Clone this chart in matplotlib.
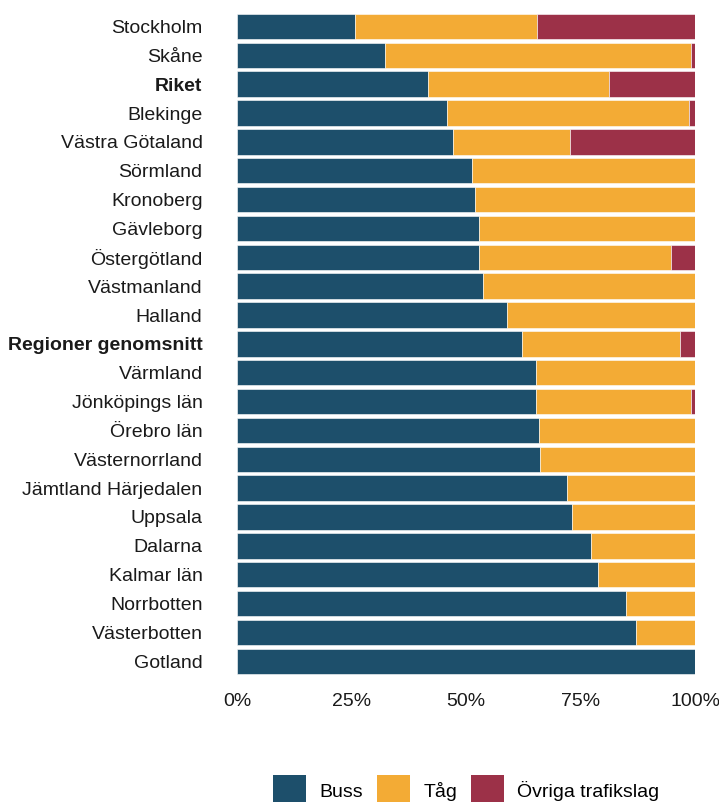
import matplotlib
matplotlib.use("Agg")
import matplotlib.pyplot as plt
from matplotlib.patches import Patch

plt.rcParams['font.family'] = ['Liberation Sans', 'DejaVu Sans']

regions = [
    "Stockholm", "Skåne", "Riket", "Blekinge", "Västra Götaland", "Sörmland",
    "Kronoberg", "Gävleborg", "Östergötland", "Västmanland", "Halland",
    "Regioner genomsnitt", "Värmland", "Jönköpings län", "Örebro län",
    "Västernorrland", "Jämtland Härjedalen", "Uppsala", "Dalarna",
    "Kalmar län", "Norrbotten", "Västerbotten", "Gotland",
]
buss = [25.7, 32.3, 41.6, 45.7, 47.1, 51.2, 52.0, 52.7, 52.7, 53.6, 58.9,
        62.2, 65.2, 65.3, 65.9, 66.1, 72.0, 73.0, 77.3, 78.8, 84.9, 87.0, 100.0]
tag = [39.7, 66.8, 39.6, 53.0, 25.5, 48.8, 48.0, 47.3, 42.0, 46.4, 41.1,
       34.4, 34.8, 33.8, 34.1, 33.9, 28.0, 27.0, 22.7, 21.2, 15.1, 13.0, 0.0]
ovriga = [34.6, 0.9, 18.8, 1.3, 27.4, 0.0, 0.0, 0.0, 5.3, 0.0, 0.0,
          3.4, 0.0, 0.9, 0.0, 0.0, 0.0, 0.0, 0.0, 0.0, 0.0, 0.0, 0.0]
bold_rows = ["Riket", "Regioner genomsnitt"]
series_names = ["Buss", "Tåg", "Övriga trafikslag"]
colors = ["#1D4F6B", "#F3AB35", "#9C3148"]
xticks = [0, 25, 50, 75, 100]
xticklabels = ["0%", "25%", "50%", "75%", "100%"]

fs = 14

fig = plt.figure(figsize=(7.19, 8.02), dpi=100)
ax = fig.add_axes([0.330, 0.1575, 0.637, 0.8275])

ypos = list(range(len(regions)))
left = [0.0] * len(regions)
for vals, col in zip([buss, tag, ovriga], colors):
    ax.barh(ypos, vals, left=left, height=0.88, color=col,
            edgecolor="white", linewidth=0.4)
    left = [l + v for l, v in zip(left, vals)]

ax.set_ylim(len(regions) - 0.5, -0.5)
ax.set_xlim(0, 100)
ax.set_yticks(ypos)
ax.set_yticklabels(regions, fontsize=fs, color="#1a1a1a")
for lbl in ax.get_yticklabels():
    if lbl.get_text() in bold_rows:
        lbl.set_fontweight("bold")
ax.set_xticks(xticks)
ax.set_xticklabels(xticklabels, fontsize=fs, color="#1a1a1a")
ax.tick_params(axis="y", length=0, pad=25)
ax.tick_params(axis="x", length=0, pad=12.5)
for s in ax.spines.values():
    s.set_visible(False)

handles = [Patch(facecolor=c, edgecolor="none") for c in colors]
fig.legend(handles, series_names, loc="center", ncol=3,
           bbox_to_anchor=(0.6485, 0.014), frameon=False, fontsize=fs,
           handlelength=1.7, handleheight=2.1, handletextpad=0.67,
           columnspacing=0.72)

fig.savefig("out.png", dpi=100)
